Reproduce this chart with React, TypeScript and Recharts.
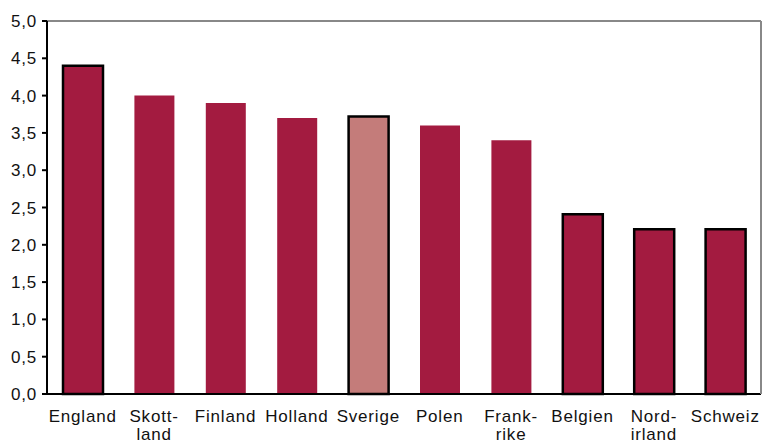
import { BarChart, Bar, XAxis, YAxis, Cell, ReferenceLine } from "recharts";

const countries = [
  "England",
  "Skott-\nland",
  "Finland",
  "Holland",
  "Sverige",
  "Polen",
  "Frank-\nrike",
  "Belgien",
  "Nord-\nirland",
  "Schweiz",
];
const values = [4.4, 4.0, 3.9, 3.7, 3.72, 3.6, 3.4, 2.41, 2.21, 2.21];
const yTicks = [0, 0.5, 1, 1.5, 2, 2.5, 3, 3.5, 4, 4.5, 5];

const outlined = ["England", "Sverige", "Belgien", "Nord-\nirland", "Schweiz"];
const highlight = "Sverige";

const BAR = "#A31B40";
const BAR_LIGHT = "#C47C7A";
const FONT = "'Liberation Sans', Arial, sans-serif";

const data = countries.map((c, i) => ({ country: c, value: values[i] }));

function CountryTick({ x, y, payload }: any) {
  const lines = String(payload.value).split("\n");
  return (
    <text
      x={x}
      y={y + 20}
      textAnchor="middle"
      fill="#111"
      fontSize={17}
      fontFamily={FONT}
      letterSpacing={0.8}
    >
      {lines.map((l, i) => (
        <tspan key={i} x={x} dy={i === 0 ? 0 : 18}>
          {l}
        </tspan>
      ))}
    </text>
  );
}

export default function App() {
  return (
    <div style={{ position: "absolute", left: 0, top: 0, background: "#fff" }}>
      <BarChart
        width={763}
        height={443}
        data={data}
        margin={{ top: 21, right: 1, bottom: 0, left: 0 }}
      >
        <XAxis
          dataKey="country"
          xAxisId="main"
          height={49}
          interval={0}
          tickLine={false}
          axisLine={{ stroke: "#000", strokeWidth: 2 }}
          tick={<CountryTick />}
        />
        <YAxis
          yAxisId="main"
          width={47}
          domain={[0, 5]}
          ticks={yTicks}
          interval={0}
          tickSize={5}
          tickMargin={5}
          tickLine={{ stroke: "#000", strokeWidth: 2 }}
          axisLine={{ stroke: "#000", strokeWidth: 2 }}
          tickFormatter={(v: number) => v.toFixed(1).replace(".", ",")}
          tick={{ fill: "#111", fontSize: 17, fontFamily: FONT, letterSpacing: 0.8 }}
        />
        <YAxis
          yAxisId="right"
          orientation="right"
          width={1}
          domain={[0, 5]}
          tick={false}
          tickLine={false}
          axisLine={{ stroke: "#888", strokeWidth: 2 }}
        />
        <ReferenceLine
          y={5}
          xAxisId="main"
          yAxisId="main"
          stroke="#888"
          strokeWidth={2}
        />
        <Bar
          dataKey="value"
          xAxisId="main"
          yAxisId="main"
          barSize={40}
          isAnimationActive={false}
        >
          {data.map((d) => (
            <Cell
              key={d.country}
              fill={d.country === highlight ? BAR_LIGHT : BAR}
              stroke={outlined.includes(d.country) ? "#000" : "none"}
              strokeWidth={2.5}
            />
          ))}
        </Bar>
      </BarChart>
    </div>
  );
}
